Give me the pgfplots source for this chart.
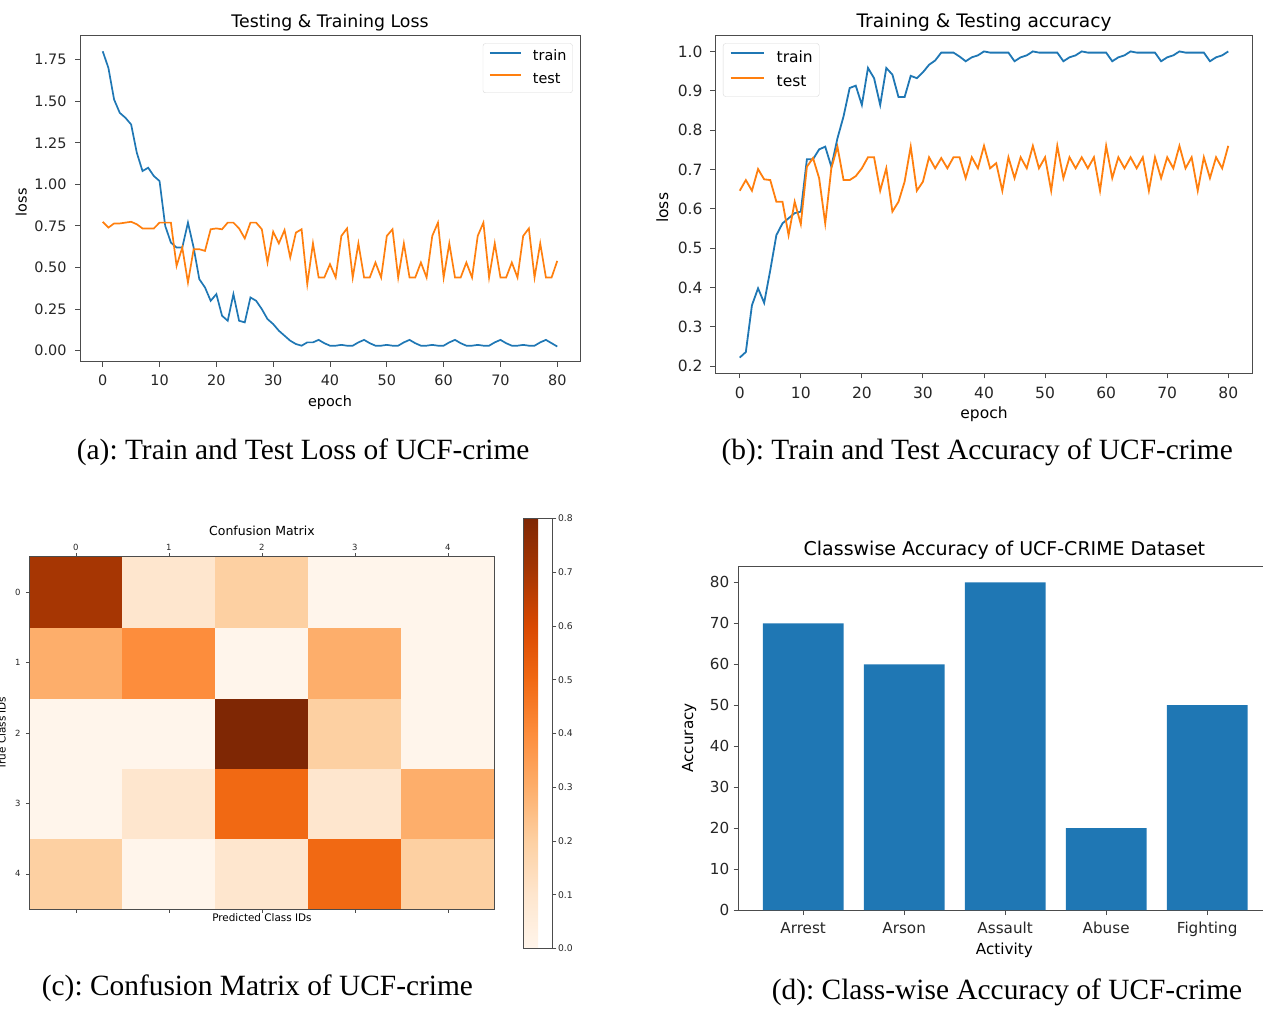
\documentclass[border=0pt]{standalone}
\usepackage{fontspec}
\setmainfont{DejaVu Sans}
\newfontfamily\capfont{Liberation Serif}
\usepackage{pgfplots}
\pgfplotsset{compat=1.18}
\usepackage{pgfplotstable}
\frenchspacing

\definecolor{tabblue}{HTML}{1F77B4}
\definecolor{taborange}{HTML}{FF7F0E}

\newcommand\fa{\fontsize{14.4}{17}\selectfont}
\newcommand\fat{\fontsize{17.3}{20}\selectfont}
\newcommand\fb{\fontsize{15.5}{18}\selectfont}
\newcommand\fbt{\fontsize{18.6}{22}\selectfont}
\newcommand\fct{\fontsize{12.5}{15}\selectfont}
\newcommand\fcl{\fontsize{10.4}{12}\selectfont}
\newcommand\fck{\fontsize{8.5}{10}\selectfont}
\newcommand\fcb{\fontsize{9.2}{11}\selectfont}
\newcommand\fd{\fontsize{15.2}{18}\selectfont}
\newcommand\fdt{\fontsize{19}{22}\selectfont}
\newcommand\fcap{\capfont\fontsize{29.4}{34}\selectfont}

\pgfplotstableread{
e trl tel
0 1.80 0.775
1 1.70 0.74
2 1.51 0.765
3 1.43 0.765
4 1.40 0.77
5 1.36 0.775
6 1.19 0.76
7 1.08 0.735
8 1.10 0.735
9 1.05 0.735
10 1.02 0.77
11 0.75 0.77
12 0.65 0.77
13 0.62 0.51
14 0.62 0.62
15 0.77 0.41
16 0.62 0.61
17 0.43 0.61
18 0.38 0.60
19 0.30 0.73
20 0.34 0.735
21 0.21 0.73
22 0.18 0.77
23 0.34 0.77
24 0.18 0.735
25 0.17 0.675
26 0.32 0.77
27 0.30 0.77
28 0.25 0.73
29 0.19 0.53
30 0.16 0.715
31 0.12 0.645
32 0.09 0.725
33 0.06 0.56
34 0.04 0.71
35 0.03 0.73
36 0.05 0.40
37 0.05 0.645
38 0.065 0.44
39 0.045 0.44
40 0.03 0.52
41 0.03 0.44
42 0.035 0.69
43 0.03 0.735
44 0.03 0.44
45 0.05 0.645
46 0.065 0.44
47 0.045 0.44
48 0.03 0.53
49 0.03 0.44
50 0.035 0.69
51 0.03 0.73
52 0.03 0.44
53 0.05 0.645
54 0.065 0.44
55 0.045 0.44
56 0.03 0.53
57 0.03 0.44
58 0.035 0.69
59 0.03 0.77
60 0.03 0.44
61 0.05 0.645
62 0.065 0.44
63 0.045 0.44
64 0.03 0.53
65 0.03 0.44
66 0.035 0.69
67 0.03 0.77
68 0.03 0.44
69 0.05 0.645
70 0.065 0.44
71 0.045 0.44
72 0.03 0.53
73 0.03 0.44
74 0.035 0.69
75 0.03 0.735
76 0.03 0.44
77 0.05 0.645
78 0.065 0.44
79 0.045 0.44
80 0.025 0.54
}\lossdata

\pgfplotstableread{
e tra tea
0 0.222 0.646
1 0.236 0.673
2 0.355 0.646
3 0.398 0.701
4 0.361 0.675
5 0.444 0.673
6 0.533 0.618
7 0.563 0.618
8 0.576 0.533
9 0.589 0.618
10 0.593 0.561
11 0.726 0.707
12 0.726 0.729
13 0.751 0.678
14 0.758 0.563
15 0.707 0.703
16 0.779 0.758
17 0.835 0.673
18 0.907 0.673
19 0.913 0.683
20 0.864 0.703
21 0.958 0.731
22 0.932 0.731
23 0.864 0.646
24 0.958 0.703
25 0.941 0.593
26 0.884 0.618
27 0.884 0.669
28 0.938 0.758
29 0.932 0.646
30 0.947 0.669
31 0.966 0.731
32 0.977 0.703
33 0.997 0.729
34 0.997 0.703
35 0.997 0.731
36 0.987 0.731
37 0.975 0.678
38 0.985 0.731
39 0.99 0.703
40 1.0 0.76
41 0.997 0.703
42 0.997 0.716
43 0.997 0.646
44 0.997 0.731
45 0.975 0.678
46 0.985 0.731
47 0.99 0.703
48 1.0 0.76
49 0.997 0.703
50 0.997 0.731
51 0.997 0.646
52 0.997 0.76
53 0.975 0.678
54 0.985 0.731
55 0.99 0.703
56 1.0 0.731
57 0.997 0.703
58 0.997 0.731
59 0.997 0.646
60 0.997 0.76
61 0.975 0.678
62 0.985 0.731
63 0.99 0.703
64 1.0 0.731
65 0.997 0.703
66 0.997 0.731
67 0.997 0.646
68 0.997 0.731
69 0.975 0.678
70 0.985 0.731
71 0.99 0.703
72 1.0 0.76
73 0.997 0.703
74 0.997 0.731
75 0.997 0.646
76 0.997 0.731
77 0.975 0.678
78 0.985 0.731
79 0.99 0.703
80 1.0 0.76
}\accdata

\pgfplotstableread{
x y c
0 0 0.2
1 0 0
2 0 0.1
3 0 0.5
4 0 0.2
0 1 0
1 1 0.1
2 1 0.5
3 1 0.1
4 1 0.3
0 2 0
1 2 0
2 2 0.8
3 2 0.2
4 2 0
0 3 0.3
1 3 0.4
2 3 0
3 3 0.3
4 3 0
0 4 0.7
1 4 0.1
2 4 0.2
3 4 0
4 4 0
}\cmdata

\pgfplotsset{
  /pgf/number format/assume math mode=true,
  mpl/.style={
    scale only axis, anchor=south west,
    axis line style={black!70, line width=1pt},
    tick align=outside, tick pos=left,
    major tick length=5pt,
    tick style={black!70, line width=0.9pt},
    every tick label/.append style={inner sep=0pt, text=black!85},
    scaled ticks=false,
    legend cell align=left,
  },
}

\begin{document}
\begin{tikzpicture}

% (a) loss
\begin{axis}[mpl, at={(80pt,648pt)}, width=500pt, height=326pt,
  xmin=-4, xmax=84, ymin=-0.068, ymax=1.892,
  xtick={0,10,...,80}, ytick={0,0.25,0.5,0.75,1,1.25,1.5,1.75},
  tick label style={font=\fa},
  xticklabel style={anchor=base, yshift=-19pt},
  yticklabel style={anchor=east, xshift=-8.3pt, /pgf/number format/fixed, /pgf/number format/fixed zerofill, /pgf/number format/precision=2},
  title={Testing \& Training Loss},
  title style={font=\fat, at={(axis description cs:0.5,1.008)}, anchor=base, inner sep=0pt},
  xlabel={epoch}, xlabel style={font=\fa, at={(axis description cs:0.5,-0.136)}, anchor=base, inner sep=0pt},
  ylabel={loss}, ylabel style={font=\fa, at={(axis description cs:-0.107,0.49)}, anchor=base, inner sep=0pt},
  legend style={at={(axis description cs:0.9854,0.9776)}, anchor=north east, font=\fa,
    draw=black!15, rounded corners=2.5pt, fill=white, inner xsep=6pt, inner ysep=6.3pt,
    nodes={inner sep=0pt, text height=11pt, text depth=3pt}, column sep=11pt, row sep=8.7pt},
  legend image code/.code={\draw[#1, line width=2pt] (0pt,4pt) -- (31pt,4pt);},
]
\addplot[tabblue, line width=1.7pt] table[x=e, y=trl] {\lossdata};
\addlegendentry{train}
\addplot[taborange, line width=1.7pt] table[x=e, y=tel] {\lossdata};
\addlegendentry{test}
\end{axis}

% (b) accuracy
\begin{axis}[mpl, at={(715.3pt,636.7pt)}, width=537.4pt, height=337.6pt,
  xmin=-4, xmax=84, ymin=0.182, ymax=1.040,
  xtick={0,10,...,80}, ytick={0.2,0.3,0.4,0.5,0.6,0.7,0.8,0.9,1.0},
  tick label style={font=\fb},
  xticklabel style={anchor=base, yshift=-20pt},
  yticklabel style={anchor=east, xshift=-7.6pt, /pgf/number format/fixed, /pgf/number format/fixed zerofill, /pgf/number format/precision=1},
  title={Training \& Testing accuracy},
  title style={font=\fbt, at={(axis description cs:0.5,1.0065)}, anchor=base, inner sep=0pt},
  xlabel={epoch}, xlabel style={font=\fb, at={(axis description cs:0.5,-0.1345)}, anchor=base, inner sep=0pt},
  ylabel={loss}, ylabel style={font=\fb, at={(axis description cs:-0.088,0.49)}, anchor=base, inner sep=0pt},
  legend style={at={(axis description cs:0.0143,0.9775)}, anchor=north west, font=\fb,
    draw=black!15, rounded corners=2.5pt, fill=white, inner xsep=6.5pt, inner ysep=6.8pt,
    nodes={inner sep=0pt, text height=11.8pt, text depth=3.2pt}, column sep=12pt, row sep=9.4pt},
  legend image code/.code={\draw[#1, line width=2pt] (0pt,4.3pt) -- (33pt,4.3pt);},
]
\addplot[tabblue, line width=1.8pt] table[x=e, y=tra] {\accdata};
\addlegendentry{train}
\addplot[taborange, line width=1.8pt] table[x=e, y=tea] {\accdata};
\addlegendentry{test}
\end{axis}

% (c) confusion matrix
\begin{axis}[scale only axis, anchor=south west, at={(29.4pt,100.9pt)}, width=465pt, height=352.3pt,
  axis on top,
  enlargelimits=false, xmin=-0.5, xmax=4.5, ymin=-0.5, ymax=4.5,
  axis line style={black!70, line width=0.9pt},
  tick align=outside, major tick length=3.5pt, tick style={black!70, line width=0.7pt},
  xtick={0,1,2,3,4}, ytick={0,1,2,3,4}, yticklabels={4,3,2,1,0},
  xtick pos=both, xticklabel pos=right, ytick pos=left,
  tick label style={font=\fck, inner sep=0pt, text=black!85},
  xticklabel style={anchor=base, yshift=3.2pt},
  yticklabel style={anchor=east, xshift=-5.2pt},
  title={Confusion Matrix},
  title style={font=\fct, at={(axis description cs:0.5,1.043)}, anchor=base, inner sep=0pt},
  xlabel={Predicted Class IDs}, xlabel style={font=\fcl, at={(axis description cs:0.5,-0.036)}, anchor=base, inner sep=0pt},
  ylabel={True Class IDs}, ylabel style={font=\fcl, at={(axis description cs:-0.0512,0.5)}, anchor=base, inner sep=0pt},
  colormap={oranges}{rgb255(0cm)=(255,245,235) rgb255(1cm)=(254,230,206) rgb255(2cm)=(253,208,162) rgb255(3cm)=(253,174,107) rgb255(4cm)=(253,141,60) rgb255(5cm)=(241,105,19) rgb255(6cm)=(217,72,1) rgb255(7cm)=(166,54,3) rgb255(8cm)=(127,39,4)},
  point meta min=0, point meta max=0.8,
  colorbar,
  colorbar style={scale only axis, at={(parent axis.south east)}, anchor=south west,
    xshift=21pt, yshift=-39.3pt, width=29pt, height=430pt,
    ytick={0,0.1,0.2,0.3,0.4,0.5,0.6,0.7,0.8}, ytick pos=right, yticklabel pos=right,
    tick align=outside, major tick length=3.5pt,
    axis line style={black!70, line width=0.9pt}, tick style={black!70, line width=0.7pt},
    yticklabel style={font=\fcb, anchor=west, xshift=1.4pt, inner sep=0pt, text=black!85,
      /pgf/number format/fixed, /pgf/number format/fixed zerofill, /pgf/number format/precision=1}},
]
\addplot[matrix plot*, mesh/cols=5, point meta=explicit] table[x=x, y=y, meta=c] {\cmdata};
\end{axis}

% (d) class-wise accuracy
\begin{axis}[mpl, at={(738.5pt,100pt)}, width=533.3pt, height=344pt,
  xmin=-0.64, xmax=4.64, ymin=0, ymax=84,
  ybar, bar width=0.8,
  xtick={0,1,2,3,4}, xticklabels={Arrest,Arson,Assault,Abuse,Fighting},
  ytick={0,10,...,80},
  tick label style={font=\fd},
  xticklabel style={anchor=base, yshift=-18pt},
  yticklabel style={anchor=east, xshift=-4pt},
  title={Classwise Accuracy of UCF-CRIME Dataset},
  title style={font=\fdt, at={(axis description cs:0.4986,1.0145)}, anchor=base, inner sep=0pt},
  xlabel={Activity}, xlabel style={font=\fd, at={(axis description cs:0.4986,-0.128)}, anchor=base, inner sep=0pt},
  ylabel={Accuracy}, ylabel style={font=\fd, at={(axis description cs:-0.0853,0.5)}, anchor=base, inner sep=0pt},
]
\addplot[fill=tabblue, draw=none] coordinates {(0,70) (1,60) (2,80) (3,20) (4,50)};
\end{axis}

% captions
\node[anchor=base west, inner sep=0pt] at (76.7pt,550.7pt) {\fcap (a): Train and Test Loss of UCF-crime};
\node[anchor=base west, inner sep=0pt] at (721.4pt,550.7pt) {\fcap (b): Train and Test Accuracy of UCF-crime};
\node[anchor=base west, inner sep=0pt] at (41.7pt,15pt) {\fcap (c): Confusion Matrix of UCF-crime};
\node[anchor=base west, inner sep=0pt] at (771.7pt,11pt) {\fcap (d): Class-wise Accuracy of UCF-crime};

\pgfresetboundingbox
\path[use as bounding box] (0pt,0pt) rectangle (1263pt,1010pt);
\end{tikzpicture}
\end{document}
